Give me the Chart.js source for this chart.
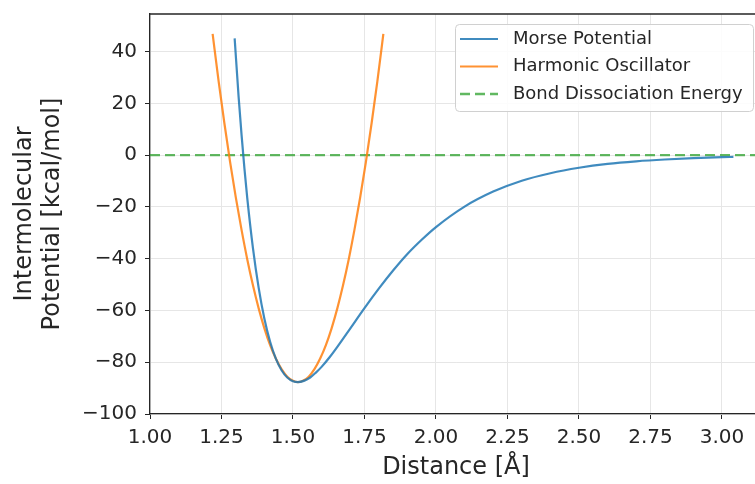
<!DOCTYPE html>
<html>
<head>
<meta charset="utf-8">
<script src="https://cdn.jsdelivr.net/npm/chart.js@4"></script>
<style>
  html, body { margin: 0; padding: 0; background: #fff; overflow: hidden; }
  #wrap { width: 764px; height: 484px; }
</style>
</head>
<body>
<div id="wrap"><canvas id="chart" width="764" height="484"></canvas></div>
<script>
// data
const morseX = [1.296, 1.31, 1.32, 1.33, 1.34, 1.36, 1.38, 1.40, 1.42, 1.44, 1.46, 1.48, 1.50, 1.517,
                1.54, 1.56, 1.58, 1.60, 1.63, 1.66, 1.70, 1.75, 1.80, 1.85, 1.90, 1.95, 2.00,
                2.10, 2.20, 2.30, 2.40, 2.50, 2.60, 2.70, 2.80, 2.90, 3.00, 3.04];
const morseY = [45.1, 22.3, 8.0, -4.9, -16.5, -35.9, -51.3, -63.2, -72.1, -78.6, -83.1, -85.9, -87.35, -87.7,
                -87.1, -85.9, -84.0, -81.8, -77.8, -73.3, -67.0, -59.1, -51.6, -44.6, -38.2, -32.7, -27.8,
                -19.9, -14.1, -9.9, -7.0, -4.9, -3.4, -2.4, -1.7, -1.2, -0.8, -0.7];

const harmX = [1.219, 1.24, 1.26, 1.28, 1.30, 1.32, 1.34, 1.36, 1.38, 1.40, 1.42, 1.44, 1.46, 1.48, 1.50, 1.5175,
               1.535, 1.555, 1.575, 1.595, 1.615, 1.635, 1.655, 1.675, 1.695, 1.715, 1.735, 1.755, 1.775, 1.795, 1.816];
const harmY = [46.8, 28.5, 12.4, -2.6, -16.3, -28.8, -40.2, -50.3, -59.2, -66.9, -73.4, -78.6, -82.7, -85.6, -87.2, -87.7,
               -87.2, -85.6, -82.7, -78.6, -73.4, -66.9, -59.2, -50.3, -40.2, -28.8, -16.3, -2.6, 12.4, 28.5, 46.8];

const bdeX = [1.0, 3.14];
const bdeY = [0, 0];

const seriesNames = ['Morse Potential', 'Harmonic Oscillator', 'Bond Dissociation Energy'];

const xTicks = [1.00, 1.25, 1.50, 1.75, 2.00, 2.25, 2.50, 2.75, 3.00];
const yTicks = [-100, -80, -60, -40, -20, 0, 20, 40];

const FONT = "'DejaVu Sans', sans-serif";
const INK = '#262626';

function pts(xs, ys) {
    return xs.map((x, i) => ({ x: x, y: ys[i] }));
}

// top/right spines (left and bottom come from the axis borders)
const framePlugin = {
    id: 'frame',
    afterDatasetsDraw(chart) {
        const { ctx, chartArea: a } = chart;
        ctx.save();
        ctx.strokeStyle = INK;
        ctx.lineWidth = 1.3;
        ctx.beginPath();
        ctx.moveTo(a.left, a.top);
        ctx.lineTo(a.right, a.top);
        ctx.lineTo(a.right, a.bottom);
        ctx.stroke();
        ctx.restore();
    }
};

// legend drawn inside the plot, upper right
const innerLegend = {
    id: 'innerLegend',
    afterDraw(chart) {
        const { ctx } = chart;
        const x0 = 455, y0 = 24, w = 298, h = 87, r = 4;
        ctx.save();
        ctx.fillStyle = 'rgba(255,255,255,0.85)';
        ctx.strokeStyle = '#d0d0d0';
        ctx.lineWidth = 1;
        ctx.beginPath();
        ctx.roundRect(x0 + 0.5, y0 + 0.5, w, h, r);
        ctx.fill();
        ctx.stroke();

        ctx.font = '18px ' + FONT;
        ctx.textBaseline = 'middle';
        chart.data.datasets.forEach((ds, i) => {
            const cy = y0 + 15 + i * 27.5;
            ctx.strokeStyle = ds.borderColor;
            ctx.lineWidth = ds.borderWidth;
            ctx.setLineDash(ds.borderDash || []);
            ctx.beginPath();
            ctx.moveTo(x0 + 5, cy);
            ctx.lineTo(x0 + 43, cy);
            ctx.stroke();
            ctx.setLineDash([]);
            ctx.fillStyle = INK;
            ctx.fillText(ds.label, x0 + 58, cy);
        });
        ctx.restore();
    }
};

new Chart(document.getElementById('chart'), {
    type: 'line',
    data: {
        datasets: [
            {
                label: seriesNames[0],
                data: pts(morseX, morseY),
                borderColor: 'rgba(31,119,180,0.85)',
                borderWidth: 2.2,
                pointRadius: 0,
                cubicInterpolationMode: 'monotone'
            },
            {
                label: seriesNames[1],
                data: pts(harmX, harmY),
                borderColor: 'rgba(255,127,14,0.85)',
                borderWidth: 2.2,
                pointRadius: 0,
                cubicInterpolationMode: 'monotone'
            },
            {
                label: seriesNames[2],
                data: pts(bdeX, bdeY),
                borderColor: 'rgba(44,160,44,0.75)',
                borderWidth: 2.4,
                borderDash: [10, 5],
                pointRadius: 0
            }
        ]
    },
    plugins: [framePlugin, innerLegend],
    options: {
        responsive: false,
        animation: false,
        layout: { padding: { top: 14, right: 2, left: 0, bottom: 0 } },
        plugins: {
            legend: { display: false },
            tooltip: { enabled: false }
        },
        scales: {
            x: {
                type: 'linear',
                min: 1.0,
                max: 3.14,
                afterBuildTicks: (axis) => { axis.ticks = xTicks.map(v => ({ value: v })); },
                afterFit: (scale) => { scale.height = 70; },
                border: { display: true, color: INK, width: 1.3 },
                grid: { color: '#e6e6e6', lineWidth: 1, tickColor: INK, tickLength: 5 },
                ticks: {
                    color: INK,
                    font: { family: FONT, size: 20 },
                    padding: 7,
                    maxRotation: 0,
                    autoSkip: false,
                    callback: (v) => v.toFixed(2)
                },
                title: {
                    display: true,
                    text: 'Distance [Å]',
                    color: INK,
                    font: { family: FONT, size: 24 },
                    padding: { top: 0, bottom: 2 }
                }
            },
            y: {
                type: 'linear',
                min: -100,
                max: 54.5,
                afterBuildTicks: (axis) => { axis.ticks = yTicks.map(v => ({ value: v })); },
                afterFit: (scale) => {
                    scale.width = 150;
                    scale.paddingTop = 0;
                    scale.paddingBottom = 0;
                },
                border: { display: true, color: INK, width: 1.3 },
                grid: { color: '#e6e6e6', lineWidth: 1, tickColor: INK, tickLength: 5 },
                ticks: {
                    color: INK,
                    font: { family: FONT, size: 20 },
                    padding: 8,
                    autoSkip: false,
                    callback: (v) => (v < 0 ? '\u2212' + Math.abs(v) : String(v))
                },
                title: {
                    display: true,
                    text: ['Intermolecular', 'Potential [kcal/mol]'],
                    color: INK,
                    font: { family: FONT, size: 24 },
                    padding: { top: 10, bottom: 0 }
                }
            }
        }
    }
});
</script>
</body>
</html>
